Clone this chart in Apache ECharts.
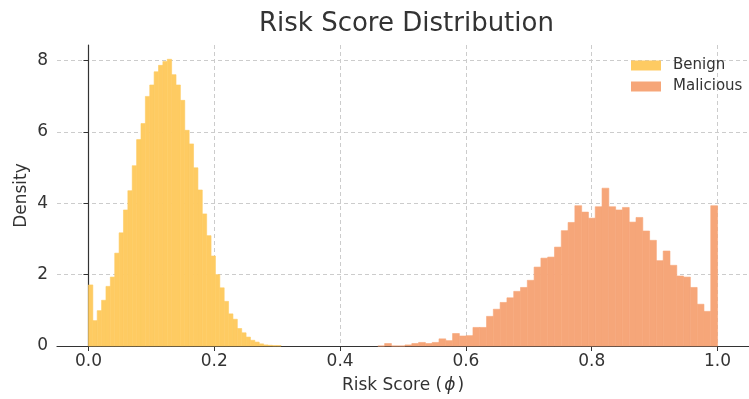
<!DOCTYPE html>
<html>
<head>
<meta charset="utf-8">
<script src="https://cdn.jsdelivr.net/npm/echarts@6/dist/echarts.min.js"></script>
<style>
  html, body { margin: 0; padding: 0; background: #ffffff; }
  #chart { width: 749px; height: 399px; }
</style>
</head>
<body>
<div id="chart"></div>
<script>
// Histogram bins: each series has a start, a bin width and one density per bin.
const benignStart = 0.0;
const benignBinWidth = 0.00696;
const benignDensity = [
  1.71, 0.71, 0.99, 1.28, 1.67, 1.93, 2.60, 3.17, 3.81, 4.35,
  5.05, 5.78, 6.23, 6.99, 7.31, 7.68, 7.86, 7.97, 8.03, 7.60,
  7.31, 6.88, 6.04, 5.66, 4.99, 4.37, 3.70, 3.09, 2.52, 2.00,
  1.63, 1.25, 0.90, 0.75, 0.49, 0.37, 0.25, 0.16, 0.11, 0.06,
  0.03, 0.02, 0.01, 0.01
];

const maliciousStart = 0.46;
const maliciousBinWidth = 0.0108;
const maliciousDensity = [
  0.00, 0.07, 0.00, 0.00, 0.03, 0.07, 0.10, 0.07, 0.10, 0.20,
  0.15, 0.35, 0.28, 0.29, 0.52, 0.52, 0.83, 1.03, 1.22, 1.35,
  1.53, 1.64, 1.84, 2.21, 2.46, 2.49, 2.77, 3.23, 3.46, 3.93,
  3.75, 3.58, 3.90, 4.42, 3.90, 3.81, 3.88, 3.47, 3.60, 3.22,
  2.96, 2.39, 2.66, 2.26, 1.96, 1.93, 1.64, 1.17, 0.97, 3.93
];

const xTicks = [0.0, 0.2, 0.4, 0.6, 0.8, 1.0];
const yTicks = [0, 2, 4, 6, 8];
const seriesNames = ['Benign', 'Malicious'];
const seriesColors = ['#FECB62', '#F6A679'];

function toBins(start, width, values) {
  return values.map((v, i) => [start + i * width, start + (i + 1) * width, v]);
}

function renderBin(params, api) {
  const p0 = api.coord([api.value(0), api.value(2)]);
  const p1 = api.coord([api.value(1), 0]);
  const color = api.visual('color');
  return {
    type: 'rect',
    shape: { x: p0[0], y: p0[1], width: p1[0] - p0[0], height: p1[1] - p0[1] },
    style: { fill: color, stroke: color, lineWidth: 0.6 }
  };
}

const FONT = 'DejaVu Sans';
const TEXT = '#333333';
const GRID_LINE = { show: true, lineStyle: { color: '#cccccc', type: [4, 3], width: 1 } };

const chart = echarts.init(document.getElementById('chart'), null, { renderer: 'canvas' });
chart.setOption({
  animation: false,
  backgroundColor: '#ffffff',
  color: seriesColors,
  title: {
    text: 'Risk Score Distribution',
    left: 259,
    top: 11,
    padding: 0,
    textStyle: { fontFamily: FONT, fontSize: 26, fontWeight: 'normal', color: TEXT }
  },
  legend: {
    data: seriesNames.map(n => ({ name: n, icon: 'rect' })),
    orient: 'vertical',
    left: 631,
    top: 58,
    itemWidth: 30,
    itemHeight: 10,
    itemGap: 6,
    padding: 0,
    textStyle: { fontFamily: FONT, fontSize: 15, color: TEXT, padding: [0, 0, 0, 7] }
  },
  grid: { left: 57, right: -6, top: 45, bottom: 53, containLabel: false },
  xAxis: {
    type: 'value',
    min: -0.05,
    max: 1.05,
    name: '{n|Risk Score (}{p|ϕ}{n|)}',
    nameLocation: 'middle',
    nameGap: 31,
    nameMoveOverlap: false,
    nameTextStyle: {
      rich: {
        n: { fontFamily: FONT, fontSize: 17, color: TEXT },
        p: { fontFamily: FONT, fontSize: 17, color: TEXT, fontStyle: 'italic', padding: [0, 2, 0, 2] }
      }
    },
    axisLine: { show: true, onZero: false, lineStyle: { color: '#333333', width: 1.2 } },
    axisTick: { show: true, customValues: xTicks, length: 5, lineStyle: { color: '#333333' } },
    axisLabel: {
      customValues: xTicks,
      formatter: v => v.toFixed(1),
      fontFamily: FONT, fontSize: 17, color: TEXT, margin: 7
    },
    splitLine: GRID_LINE
  },
  yAxis: {
    type: 'value',
    min: 0,
    max: 8.43,
    name: 'Density',
    nameLocation: 'middle',
    nameGap: 27,
    nameMoveOverlap: false,
    nameTextStyle: { fontFamily: FONT, fontSize: 17, color: TEXT },
    axisLine: { show: true, lineStyle: { color: '#333333', width: 1.2 } },
    axisTick: { show: true, customValues: yTicks, length: 5, lineStyle: { color: '#333333' } },
    axisLabel: { customValues: yTicks, fontFamily: FONT, fontSize: 17, color: TEXT, margin: 9 },
    splitLine: GRID_LINE
  },
  series: [
    {
      name: seriesNames[0],
      type: 'custom',
      renderItem: renderBin,
      encode: { x: [0, 1], y: 2 },
      itemStyle: { color: seriesColors[0] },
      data: toBins(benignStart, benignBinWidth, benignDensity)
    },
    {
      name: seriesNames[1],
      type: 'custom',
      renderItem: renderBin,
      encode: { x: [0, 1], y: 2 },
      itemStyle: { color: seriesColors[1] },
      data: toBins(maliciousStart, maliciousBinWidth, maliciousDensity)
    }
  ]
});
</script>
</body>
</html>
